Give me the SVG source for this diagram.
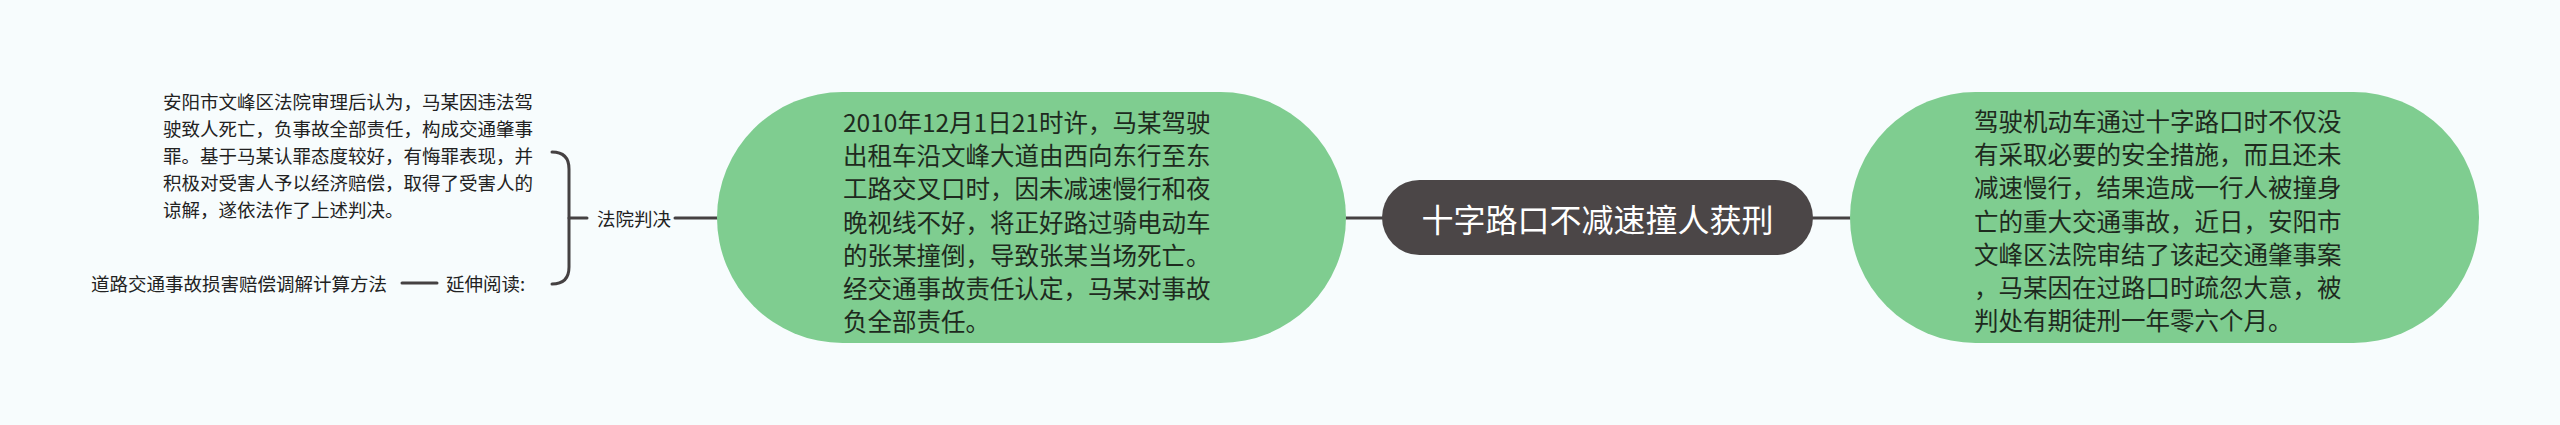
<svg xmlns="http://www.w3.org/2000/svg" width="2560" height="425" viewBox="0 0 2560 425">
<style>
text{font-family:"Noto Sans CJK SC","Noto Sans",sans-serif;dominant-baseline:central}
.leaf{font-size:18.5px;fill:#222}
.body{font-size:24.5px;fill:#1e2a1e}
.title{font-size:32px;fill:#ffffff;text-anchor:middle}
.green{fill:#7fcd90}
.line{stroke:#454142;stroke-width:3;fill:none;stroke-linecap:round}
</style>
<rect width="2560" height="425" fill="#f7fcfd"/>
<g id="connectors">
<line class="line" x1="1346" y1="218" x2="1382" y2="218"/>
<line class="line" x1="1813" y1="218" x2="1850" y2="218"/>
<line class="line" x1="675" y1="218" x2="717" y2="218"/>
<path class="line" d="M552 152 Q569 152 569 169 L569 267 Q569 284 552 284"/>
<line class="line" x1="569" y1="218" x2="587" y2="218"/>
<line class="line" x1="402" y1="283" x2="437" y2="283"/>
</g>
<g id="center">
<rect x="1382" y="180" width="431" height="75" rx="37.5" fill="#4b4647"/>
<text class="title" x="1597.5" y="217.5">十字路口不减速撞人获刑</text>
</g>
<g id="accident">
<rect class="green" x="717" y="92" width="629" height="251" rx="125.5"/>
<text class="body" x="843">
<tspan x="843" y="121">2010年12月1日21时许，马某驾驶</tspan>
<tspan x="843" y="154.2">出租车沿文峰大道由西向东行至东</tspan>
<tspan x="843" y="187.4">工路交叉口时，因未减速慢行和夜</tspan>
<tspan x="843" y="220.6">晚视线不好，将正好路过骑电动车</tspan>
<tspan x="843" y="253.8">的张某撞倒，导致张某当场死亡。</tspan>
<tspan x="843" y="287">经交通事故责任认定，马某对事故</tspan>
<tspan x="843" y="320.2">负全部责任。</tspan>
</text>
</g>
<g id="summary">
<rect class="green" x="1850" y="92" width="629" height="251" rx="125.5"/>
<text class="body" x="1974">
<tspan x="1974" y="120">驾驶机动车通过十字路口时不仅没</tspan>
<tspan x="1974" y="153.2">有采取必要的安全措施，而且还未</tspan>
<tspan x="1974" y="186.4">减速慢行，结果造成一行人被撞身</tspan>
<tspan x="1974" y="219.6">亡的重大交通事故，近日，安阳市</tspan>
<tspan x="1974" y="252.8">文峰区法院审结了该起交通肇事案</tspan>
<tspan x="1974" y="286">，马某因在过路口时疏忽大意，被</tspan>
<tspan x="1974" y="319.2">判处有期徒刑一年零六个月。</tspan>
</text>
</g>
<g id="verdict">
<text class="leaf" x="597" y="218">法院判决</text>
</g>
<g id="verdict-detail">
<text class="leaf">
<tspan x="163" y="101">安阳市文峰区法院审理后认为，马某因违法驾</tspan>
<tspan x="163" y="128">驶致人死亡，负事故全部责任，构成交通肇事</tspan>
<tspan x="163" y="155">罪。基于马某认罪态度较好，有悔罪表现，并</tspan>
<tspan x="163" y="182">积极对受害人予以经济赔偿，取得了受害人的</tspan>
<tspan x="163" y="209">谅解，遂依法作了上述判决。</tspan>
</text>
</g>
<g id="further-reading">
<text class="leaf" x="446" y="283">延伸阅读:</text>
</g>
<g id="method">
<text class="leaf" x="91" y="283">道路交通事故损害赔偿调解计算方法</text>
</g>
</svg>
